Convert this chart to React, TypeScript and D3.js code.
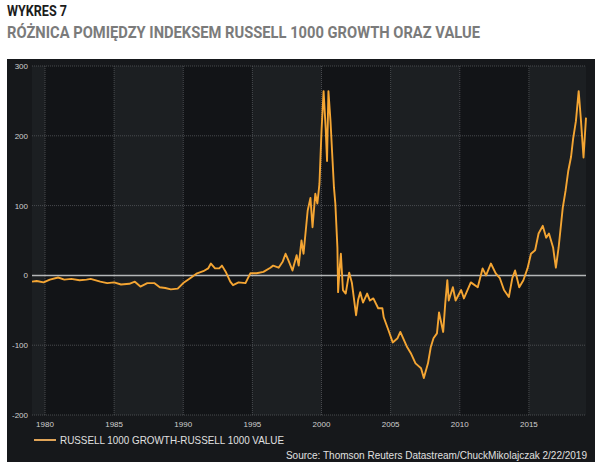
import React from "react";
import * as d3 from "d3";

// decimal years
const dates = [
  1979.06, 1979.4, 1979.9, 1980.35, 1980.95, 1981.4, 1981.9, 1982.5, 1983.0, 1983.3,
  1984.0, 1984.5, 1985.0, 1985.5, 1986.1, 1986.5, 1986.9, 1987.4, 1987.9, 1988.3,
  1988.7, 1989.1, 1989.6, 1990.0, 1990.5, 1991.0, 1991.45, 1991.8, 1992.0, 1992.3,
  1992.6, 1992.8, 1993.1, 1993.4, 1993.6, 1994.0, 1994.5, 1994.85, 1995.3, 1995.8,
  1996.3, 1996.5, 1996.9, 1997.2, 1997.4, 1997.6, 1997.9, 1998.2, 1998.35, 1998.55,
  1998.7, 1999.0, 1999.2, 1999.35, 1999.55, 1999.7, 1999.85, 2000.0, 2000.15, 2000.3,
  2000.4, 2000.5, 2000.65, 2000.8, 2000.9, 2001.0, 2001.15, 2001.2, 2001.3, 2001.4,
  2001.55, 2001.75, 2002.0, 2002.2, 2002.5, 2002.65, 2002.8, 2003.0, 2003.3, 2003.5,
  2003.75, 2004.1, 2004.4, 2004.5, 2004.85, 2005.15, 2005.5, 2005.7, 2005.9, 2006.2,
  2006.45, 2006.8, 2007.2, 2007.4, 2007.7, 2007.9, 2008.1, 2008.35, 2008.5, 2008.8,
  2008.95, 2009.1, 2009.2, 2009.5, 2009.7, 2010.1, 2010.3, 2010.8, 2011.3, 2011.65,
  2011.9, 2012.25, 2012.6, 2012.9, 2013.2, 2013.55, 2013.8, 2014.0, 2014.3, 2014.6,
  2014.9, 2015.15, 2015.45, 2015.7, 2016.0, 2016.25, 2016.45, 2016.75, 2016.95, 2017.15,
  2017.45, 2017.65, 2017.85, 2018.05, 2018.2, 2018.4, 2018.6, 2018.75, 2018.95, 2019.13,
];

// growth minus value spread
const spread = [
  -9, -8, -10, -6, -3, -6, -5, -7, -6, -5,
  -9, -11, -10, -13, -12, -9, -16, -11, -11, -17,
  -18, -20, -19, -11, -4, 3, 6, 10, 17, 10,
  10, 14, 4, -9, -14, -10, -11, 3, 3, 5,
  11, 14, 11, 20, 31, 22, 7, 29, 14, 50,
  31, 93, 111, 69, 117, 103, 131, 207, 264, 211,
  164, 264, 221, 164, 126, 103, 40, -24, 7, 31,
  -21, -26, 4, -11, -57, -35, -24, -39, -26, -36,
  -33, -47, -47, -60, -79, -96, -90, -81, -90, -103,
  -111, -126, -133, -147, -126, -103, -90, -83, -53, -81,
  -40, -7, -36, -17, -36, -21, -33, -10, -17, 10,
  0, 17, 3, -4, -21, -31, -4, 7, -17, -7,
  10, 31, 36, 60, 71, 54, 60, 40, 11, 40,
  97, 121, 150, 170, 196, 221, 264, 226, 169, 226,
];

const yTicks = [300, 200, 100, 0, -100, -200];
const xTicks = [1980, 1985, 1990, 1995, 2000, 2005, 2010, 2015];
const bandEdges = [1979.06, 1980, 1985, 1990, 1995, 2000, 2005, 2010, 2015, 2019.13];

const seriesName = "RUSSELL 1000 GROWTH-RUSSELL 1000 VALUE";
const source = "Source: Thomson Reuters Datastream/ChuckMikolajczak 2/22/2019";

export default function App() {
  const W = 603;
  const H = 463;
  const left = 32, right = 586, top = 66, bottom = 415;

  const x = d3.scaleLinear().domain([1979.06, 2019.13]).range([left, right]);
  const y = d3.scaleLinear().domain([-200, 300]).range([bottom, top]);

  const points = dates.map((d, i) => [d, spread[i]] as [number, number]);
  const line = d3
    .line<[number, number]>()
    .x((d) => x(d[0]))
    .y((d) => y(d[1]));

  const axisFont = "'Liberation Sans', Arial, sans-serif";
  const orange = "#f4a533";

  return (
    <svg
      width={W}
      height={H}
      style={{ position: "absolute", left: 0, top: 0, background: "#fff" }}
    >
      <text x={7} y={16} fontFamily="'Liberation Sans Narrow', Roboto, sans-serif" fontWeight="bold" fontSize={14.5} fill="#1c1c1c" textLength={60} lengthAdjust="spacingAndGlyphs">
        WYKRES 7
      </text>
      <text x={7} y={38} fontFamily="'Liberation Sans Narrow', Roboto, sans-serif" fontWeight="bold" fontSize={16} fill="#7b7b7b" textLength={473} lengthAdjust="spacingAndGlyphs">
        RÓŻNICA POMIĘDZY INDEKSEM RUSSELL 1000 GROWTH ORAZ VALUE
      </text>

      {/* dark panel */}
      <rect x={7} y={59} width={588} height={403} fill="#16181b" />

      {/* alternating 5-year bands */}
      {bandEdges.slice(0, -1).map((b, i) => (
        <rect
          key={b}
          x={x(b)}
          y={top}
          width={x(bandEdges[i + 1]) - x(b)}
          height={bottom - top}
          fill={i % 2 === 0 ? "#1c1f22" : "#121417"}
        />
      ))}

      {/* grid */}
      {xTicks.map((t) => (
        <line key={t} x1={x(t)} x2={x(t)} y1={top} y2={bottom} stroke="#55585c" strokeWidth={0.8} strokeDasharray="1,1" />
      ))}
      {yTicks.filter((t) => t !== 0).map((t) => (
        <line key={t} x1={left} x2={right} y1={y(t)} y2={y(t)} stroke="#55585c" strokeWidth={0.8} strokeDasharray="1,1" />
      ))}
      <line x1={left} x2={right} y1={y(0)} y2={y(0)} stroke="#b4b6b8" strokeWidth={1.5} />

      {/* axis labels */}
      {yTicks.map((t) => (
        <text key={t} x={28} y={y(t) + 3} textAnchor="end" fontFamily={axisFont} fontSize={8} fill="#d0d0d0">
          {t}
        </text>
      ))}
      {xTicks.map((t) => (
        <text key={t} x={x(t)} y={427} textAnchor="middle" fontFamily={axisFont} fontSize={8} fill="#d0d0d0">
          {t}
        </text>
      ))}

      {/* series */}
      <path d={line(points) || ""} fill="none" stroke={orange} strokeWidth={1.9} strokeLinejoin="round" />

      {/* legend */}
      <line x1={34} x2={56} y1={440} y2={440} stroke="#e0a458" strokeWidth={2} />
      <text x={60} y={444} fontFamily={axisFont} fontSize={10.5} fill="#e0e0e0" textLength={224} lengthAdjust="spacingAndGlyphs">
        {seriesName}
      </text>
      <text x={587} y={459} textAnchor="end" fontFamily={axisFont} fontSize={10} fill="#e0e0e0">
        {source}
      </text>
    </svg>
  );
}
